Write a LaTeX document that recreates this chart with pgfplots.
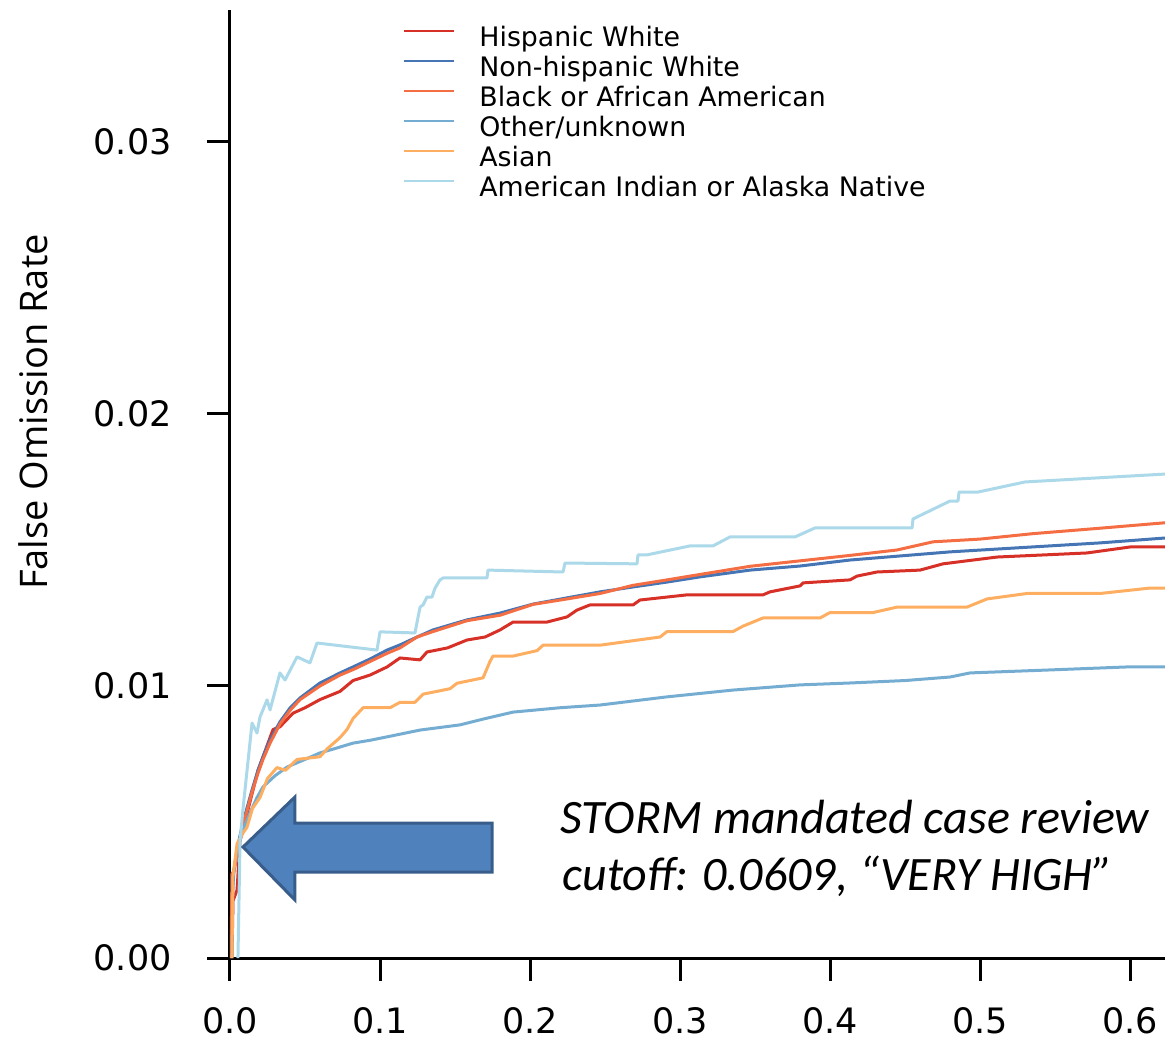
\documentclass[border=0pt]{standalone}
\usepackage{fontspec}
\setmainfont{DejaVu Sans}
\newfontfamily\osans{Open Sans}
\newfontfamily\carlito{Carlito}
\usepackage{pgfplots}
\pgfplotsset{compat=1.18}
\definecolor{cHW}{HTML}{D73027}
\definecolor{cNW}{HTML}{4575B4}
\definecolor{cBA}{HTML}{F46D43}
\definecolor{cOU}{HTML}{74ADD1}
\definecolor{cAS}{HTML}{FDAE61}
\definecolor{cAI}{HTML}{ABD9E9}
\definecolor{arrfill}{HTML}{4F81BD}
\definecolor{arredge}{HTML}{385D8A}
\begin{document}
\begin{tikzpicture}
\path[use as bounding box] (-115pt,-41pt) rectangle (467.5pt,479pt);
\begin{axis}[
  width=467.5pt, height=474pt, scale only axis,
  xmin=0, xmax=0.6233, ymin=0, ymax=0.03485,
  axis x line*=bottom, axis y line*=left,
  axis line style={line width=1.5pt, -, black},
  tick align=outside, major tick length=11.5pt,
  tick style={line width=1.5pt, black},
  xtick={0,0.1,0.2,0.3,0.4,0.5,0.6},
  xticklabels={0.0,0.1,0.2,0.3,0.4,0.5,0.6},
  ytick={0,0.01,0.02,0.03},
  yticklabels={0.00,0.01,0.02,0.03},
  /pgf/number format/assume math mode=true,
  ticklabel style={font=\fontsize{17.5}{21}\selectfont},
  xticklabel style={inner sep=0pt, yshift=-13pt},
  yticklabel style={inner sep=0pt, xshift=-17.5pt},
  scaled ticks=false,
  ylabel={False Omission Rate},
  ylabel style={font=\osans\fontsize{19}{23}\selectfont, at={(axis description cs:-0.1957,0.576)}, anchor=base},
  legend cell align=left,
  legend style={at={(axis description cs:0.1786,0.9863)}, anchor=north west, draw=none, fill=none,
    font=\fontsize{13.4}{15}\selectfont, row sep=3pt, column sep=12pt,
    nodes={inner sep=0pt, text height=9.5pt, text depth=2.5pt}},
  legend image code/.code={\draw[#1, line width=1pt] (0pt,4pt) -- (25pt,4pt);},
  every axis plot/.append style={line width=1.5pt, line join=round},
]
\addplot[cHW] coordinates {(0.0013,0.0) (0.002,0.0021) (0.0047,0.0025) (0.0067,0.0043) (0.0113,0.0053) (0.0187,0.0069) (0.022,0.0074) (0.0287,0.0084) (0.0333,0.0085) (0.042,0.0090) (0.05,0.0092) (0.06,0.0095) (0.0733,0.0098) (0.082,0.0102) (0.0933,0.0104) (0.1047,0.0107) (0.1133,0.01103) (0.1267,0.01096) (0.1313,0.01125) (0.145,0.0114) (0.158,0.01169) (0.17,0.0118) (0.18,0.01206) (0.1887,0.01235) (0.2113,0.01235) (0.2247,0.01254) (0.2313,0.01279) (0.24,0.01298) (0.2687,0.01298) (0.2733,0.01316) (0.3047,0.01335) (0.3553,0.01335) (0.36,0.01346) (0.38,0.01368) (0.382,0.01379) (0.4133,0.01390) (0.418,0.01404) (0.4313,0.01419) (0.46,0.01426) (0.4753,0.01449) (0.5113,0.01474) (0.5713,0.01489) (0.6,0.01511) (0.6233,0.01511)};
\addlegendentry{Hispanic White}
\addplot[cNW] coordinates {(0.0007,0.0) (0.0013,0.00213) (0.0027,0.00324) (0.0053,0.00415) (0.0087,0.00500) (0.0113,0.00551) (0.0147,0.00618) (0.0187,0.00691) (0.0220,0.00739) (0.0267,0.00801) (0.0333,0.00868) (0.0400,0.00919) (0.0467,0.00956) (0.0600,0.01011) (0.0733,0.01048) (0.0820,0.01070) (0.0933,0.01099) (0.1047,0.01132) (0.1133,0.01151) (0.1247,0.01180) (0.1353,0.01206) (0.1580,0.01243) (0.1800,0.01268) (0.2020,0.01301) (0.2247,0.01324) (0.2467,0.01346) (0.2687,0.01364) (0.2913,0.01382) (0.3133,0.01401) (0.3467,0.01426) (0.3800,0.01441) (0.4133,0.01463) (0.4467,0.01478) (0.4800,0.01493) (0.5133,0.01504) (0.5467,0.01515) (0.5800,0.01526) (0.6233,0.01544)};
\addlegendentry{Non-hispanic White}
\addplot[cBA] coordinates {(0.0007,0.0) (0.0013,0.0031) (0.0027,0.0032) (0.0053,0.0040) (0.0087,0.0049) (0.0113,0.0054) (0.0147,0.0061) (0.0187,0.0068) (0.022,0.0073) (0.0267,0.0079) (0.0333,0.0086) (0.04,0.0091) (0.0467,0.0095) (0.06,0.0100) (0.0733,0.0104) (0.082,0.0106) (0.0933,0.0109) (0.1047,0.0112) (0.1133,0.0114) (0.1247,0.0118) (0.1353,0.0120) (0.158,0.0124) (0.18,0.0126) (0.202,0.0130) (0.2247,0.0132) (0.2467,0.0134) (0.2687,0.0137) (0.2913,0.0139) (0.3133,0.0141) (0.3467,0.0144) (0.38,0.0146) (0.4133,0.0148) (0.4447,0.0150) (0.4687,0.0153) (0.5,0.0154) (0.5353,0.0156) (0.58,0.0158) (0.6233,0.0160)};
\addlegendentry{Black or African American}
\addplot[cOU] coordinates {(0.0013,0.0) (0.002,0.0030) (0.0047,0.0040) (0.0087,0.0047) (0.0133,0.00533) (0.018,0.0059) (0.022,0.00629) (0.03,0.0067) (0.038,0.00702) (0.05,0.0073) (0.06,0.00754) (0.07,0.0077) (0.082,0.00790) (0.093,0.0080) (0.1047,0.00813) (0.1267,0.00838) (0.1533,0.00857) (0.17,0.0088) (0.1887,0.00904) (0.22,0.0092) (0.2467,0.00930) (0.2913,0.00960) (0.3353,0.00985) (0.38,0.01004) (0.4133,0.01011) (0.45,0.0102) (0.48,0.01033) (0.4933,0.01048) (0.5467,0.01059) (0.598,0.01070) (0.6233,0.01070)};
\addlegendentry{Other/unknown}
\addplot[cAS] coordinates {(0.0013,0.0) (0.002,0.0030) (0.0047,0.0042) (0.0087,0.0046) (0.0113,0.0048) (0.015,0.0055) (0.02,0.0059) (0.025,0.0066) (0.0313,0.0070) (0.037,0.0069) (0.0447,0.0073) (0.06,0.0074) (0.065,0.0077) (0.0733,0.0081) (0.078,0.0084) (0.082,0.0088) (0.0887,0.0092) (0.1067,0.0092) (0.1133,0.0094) (0.1233,0.0094) (0.1287,0.0097) (0.1467,0.0099) (0.1513,0.0101) (0.1687,0.0103) (0.1733,0.0109) (0.1753,0.0111) (0.1887,0.0111) (0.2047,0.0113) (0.2087,0.0115) (0.2467,0.0115) (0.2867,0.0118) (0.2913,0.0120) (0.3353,0.0120) (0.342,0.0122) (0.3553,0.0125) (0.3933,0.0125) (0.4,0.0127) (0.4287,0.0127) (0.4447,0.0129) (0.4913,0.0129) (0.5047,0.0132) (0.5313,0.0134) (0.58,0.0134) (0.6133,0.0136) (0.6233,0.0136)};
\addlegendentry{Asian}
\addplot[cAI] coordinates {(0.0053,0.0) (0.0067,0.0043) (0.0087,0.0055) (0.0147,0.00864) (0.018,0.00827) (0.02,0.00886) (0.0247,0.00949) (0.0267,0.00912) (0.0333,0.01048) (0.0367,0.01022) (0.0447,0.01107) (0.0533,0.01085) (0.058,0.01158) (0.098,0.01132) (0.1,0.01199) (0.1233,0.01195) (0.1267,0.01290) (0.1287,0.01298) (0.1313,0.01327) (0.1347,0.01327) (0.1367,0.01360) (0.14,0.01390) (0.142,0.01397) (0.1713,0.01397) (0.172,0.01426) (0.222,0.01419) (0.2233,0.01452) (0.2713,0.01449) (0.272,0.01482) (0.278,0.01482) (0.3067,0.01515) (0.322,0.01515) (0.3333,0.01548) (0.3767,0.01548) (0.39,0.01581) (0.4547,0.01581) (0.4553,0.01614) (0.48,0.01680) (0.4853,0.01680) (0.486,0.01713) (0.4987,0.01713) (0.53,0.01750) (0.6233,0.01779)};
\addlegendentry{American Indian or Alaska Native}
\draw[line width=1.5pt, draw=arredge, fill=arrfill, line join=miter]
  (axis cs:0.00867,0.00408) -- (axis cs:0.04333,0.00592) -- (axis cs:0.04333,0.00496)
  -- (axis cs:0.17467,0.00496) -- (axis cs:0.17467,0.00316) -- (axis cs:0.04333,0.00316)
  -- (axis cs:0.04333,0.00213) -- cycle;
\node[anchor=base west, inner sep=0pt, font=\carlito\itshape\fontsize{24}{28}\selectfont] at (axis cs:0.22,0.004559) {STORM mandated case review};
\node[anchor=base west, inner sep=0pt, font=\carlito\itshape\fontsize{24}{28}\selectfont] at (axis cs:0.2213,0.0025) {cutoff: 0.0609, “VERY HIGH”};
\end{axis}
\end{tikzpicture}
\end{document}
